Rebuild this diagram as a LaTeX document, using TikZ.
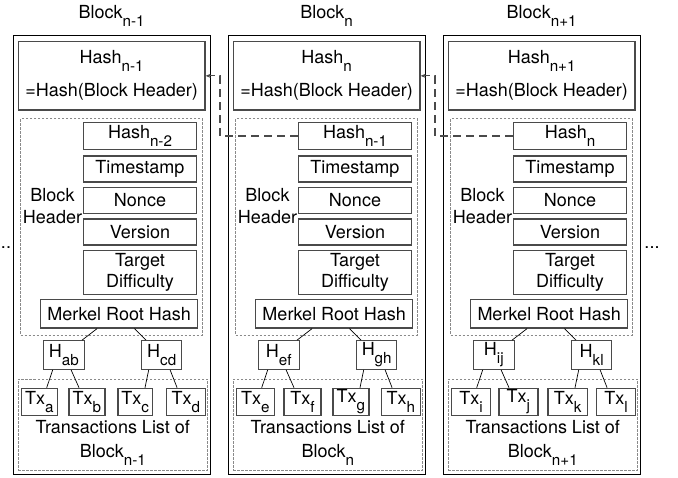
\documentclass[tikz,border=0pt]{standalone}
\usepackage{fontspec}
\setmainfont{TeX Gyre Heros}
\usetikzlibrary{calc,arrows.meta}
\newcommand{\sbs}[1]{\raisebox{-8pt}{\fontsize{15.2}{15.2}\selectfont #1}}
\definecolor{boxgray}{HTML}{4A4A4A}
\definecolor{dashgray}{HTML}{8A8A8A}
\begin{document}
\begin{tikzpicture}[x=1pt,y=-1pt,font=\fontsize{18}{21.6}\selectfont,
  outerbox/.style={draw=black,line width=0.9pt,inner sep=0pt,minimum width=196.7pt,minimum height=438.6pt},
  hashbox/.style={draw=boxgray,line width=1.2pt,inner sep=0pt,minimum width=186.7pt,minimum height=68.3pt,align=center,font=\fontsize{18}{33}\selectfont},
  field/.style={draw=boxgray,line width=1.2pt,inner sep=0pt,minimum width=113.4pt,minimum height=26pt,align=center},
  region/.style={draw=dashgray,line width=0.8pt,dash pattern=on 2.5pt off 1.5pt,inner sep=0pt},
  hnode/.style={draw=boxgray,line width=1.2pt,inner sep=0pt,minimum height=28.6pt},
  txnode/.style={draw=boxgray,line width=1.2pt,inner sep=0pt,minimum height=27.4pt,anchor=west},
  treeline/.style={draw=black,line width=0.7pt},
  link/.style={draw=boxgray,line width=1.2pt,dash pattern=on 8pt off 5pt,-{Stealth[length=5pt,width=4pt]}}]
\fill[white] (0,0) rectangle (678,478);
\useasboundingbox (0,0) rectangle (678,478);
\foreach \i/\X/\s/\p/\hA/\hB/\tA/\tB/\tC/\tD/\qA/\qB/\qC/\qD in
  {1/13.3/n-1/n-2/ab/cd/a/b/c/d/36/36/34.4/39.3,
   2/228.3/n/n-1/ef/gh/e/f/g/h/38/37/36/39,
   3/443.3/n+1/n/ij/kl/i/j/k/l/39.3/39/39.4/39.3}{
  \node[outerbox] (outer\i) at (\X+98.35,255) {};
  \node[anchor=base] (title\i) at (\X+98.35,18.3) {Block\sbs{\s}};
  \node[hashbox] (hash\i) at (\X+98.35,75.85) {Hash\sbs{\s}\\=Hash(Block Header)};
  \node[region,minimum width=181.6pt,minimum height=216.3pt] (hdr\i) at (\X+98.2,226.85) {};
  \node[field,minimum height=26.6pt] (fh\i) at (\X+126.7,136) {Hash\sbs{\p}};
  \node[field] (fts\i) at (\X+126.7,169) {Timestamp};
  \node[field] (fno\i) at (\X+126.7,200.3) {Nonce};
  \node[field] (fve\i) at (\X+126.7,232) {Version};
  \node[field,minimum height=43.6pt] (fta\i) at (\X+126.7,272.5) {Target\\Difficulty};
  \node[field,minimum width=157pt,minimum height=28.7pt] (mr\i) at (\X+105.9,313.65) {Merkel Root Hash};
  \node[align=center,inner sep=0pt] (bh\i) at (\X+39.2,205.8) {Block\\Header};
  \node[region,minimum width=189pt,minimum height=91.7pt] (txr\i) at (\X+99.5,424.85) {};
  \node[hnode,minimum width=41pt] (ha\i) at (\X+50.5,355) {H\sbs{\hA}};
  \node[hnode,minimum width=40pt] (hb\i) at (\X+148.4,355) {H\sbs{\hB}};
  \node[txnode,minimum width=\qA pt] (ta\i) at (\X+7.4,402) {Tx\sbs{\tA}};
  \node[txnode,minimum width=\qB pt] (tb\i) at (\X+55,402) {Tx\sbs{\tB}};
  \node[txnode,minimum width=\qC pt] (tc\i) at (\X+104,402) {Tx\sbs{\tC}};
  \node[txnode,minimum width=\qD pt] (td\i) at (\X+152.4,402) {Tx\sbs{\tD}};
  \node[anchor=base] (tl\i) at (\X+99.5,434) {Transactions List of};
  \node[anchor=base] (tbk\i) at (\X+99.5,457.3) {Block\sbs{\s}};
  \draw[treeline] ($(mr\i.south west)+(57,0)$) -- ($(ha\i.north west)+(39.4,0)$);
  \draw[treeline] ($(mr\i.south west)+(94.3,0)$) -- ($(hb\i.north west)+(5,0)$);
  \draw[treeline] ($(ha\i.south west)+(10,0)$) -- ($(ta\i.north west)+(26,0)$);
  \draw[treeline] ($(ha\i.south west)+(28.4,0)$) -- ($(tb\i.north west)+(10.7,0)$);
  \draw[treeline] ($(hb\i.south west)+(7.6,0)$) -- ($(tc\i.north west)+(27.7,0)$);
  \draw[treeline] ($(hb\i.south west)+(29,0)$) -- ($(td\i.north west)+(11.4,0)$);
}
\coordinate (v1) at (220,100);
\coordinate (v2) at (435,100);
\draw[link] (fh2.west) -- (fh2.west -| v1) |- (hash1.east);
\draw[link] (fh3.west) -- (fh3.west -| v2) |- (hash2.east);
\node[inner sep=0pt] (dotsl) at (3.5,248) {...};
\node[inner sep=0pt] (dotsr) at (652,248) {...};
\end{tikzpicture}
\end{document}
